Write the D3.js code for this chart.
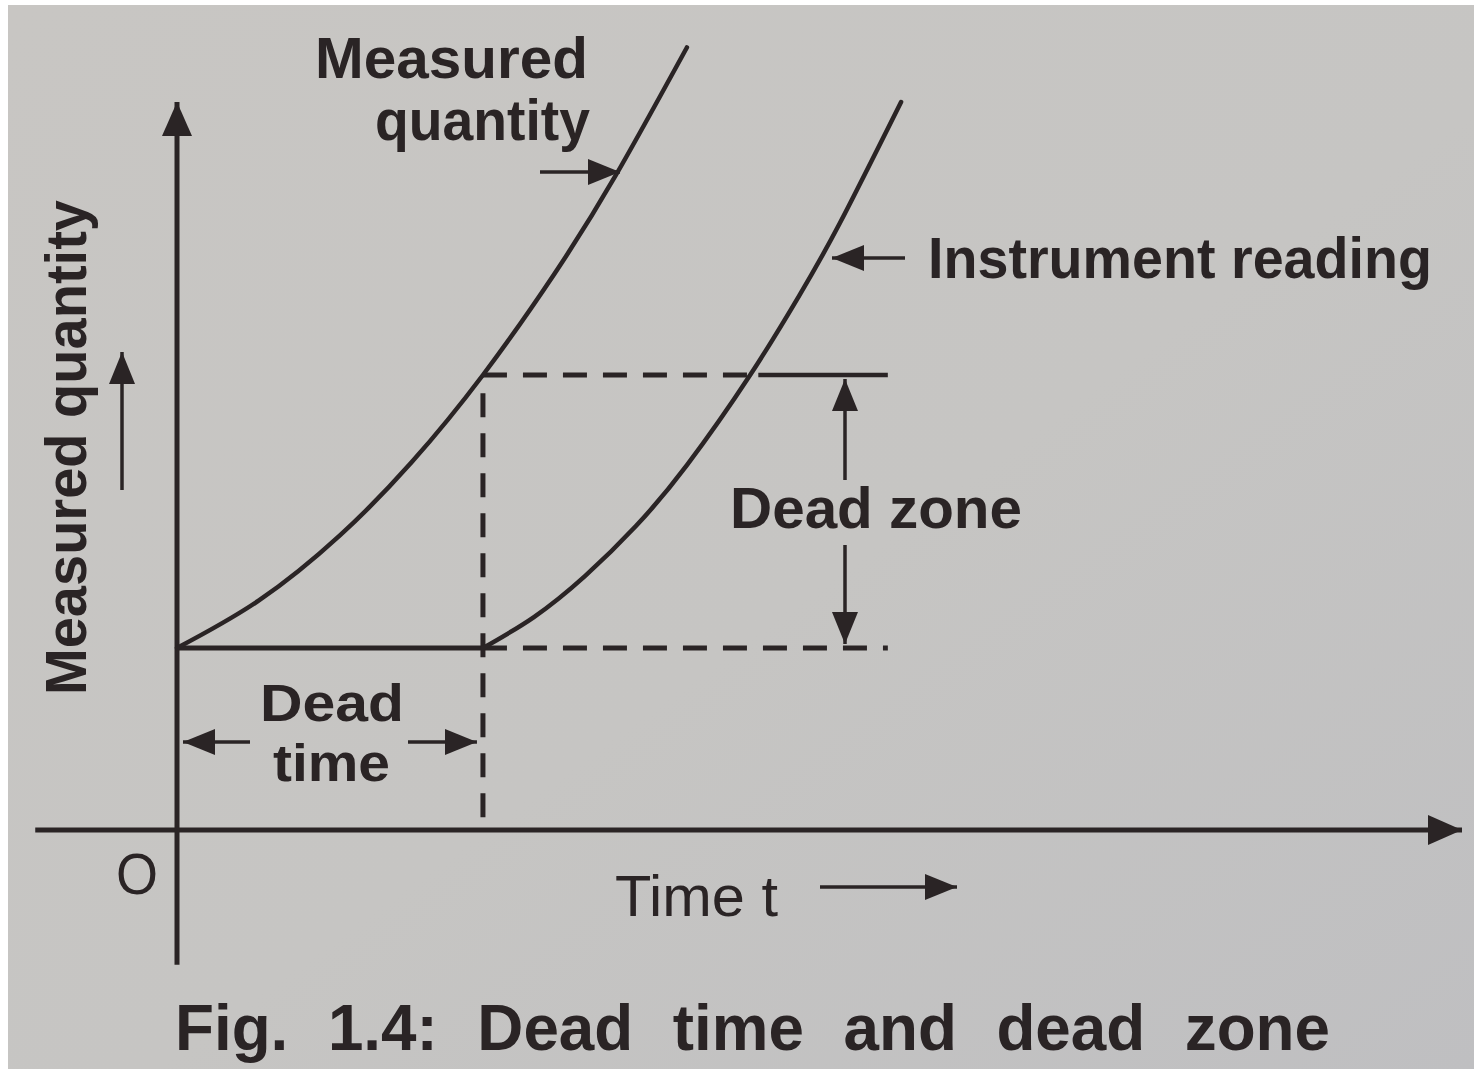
<!DOCTYPE html>
<html>
<head>
<meta charset="utf-8">
<script src="https://cdn.jsdelivr.net/npm/d3@7"></script>
<style>
    html, body { margin: 0; padding: 0; background: #ffffff; }
    svg { display: block; }
    .lbl { font-family: "Liberation Sans", Arial, sans-serif; fill: #2a2425; }
</style>
</head>
<body>
<svg id="chart" width="1474" height="1069"></svg>
<script>
/* Dead time and dead zone sketch */

// curve samples (time t, measured quantity q)
const measuredT = [0, 0.8, 1.6, 2.3, 3.0, 3.7, 4.3, 5.0];
const measuredQ = [2.0, 2.52, 3.24, 4.04, 5.0, 6.11, 7.19, 8.6];
const readingT = [3.0, 3.5, 4.0, 4.5, 5.0, 5.62, 6.1, 6.5, 7.1];
const readingQ = [2.0, 2.34, 2.79, 3.34, 4.01, 5.0, 5.87, 6.67, 8.0];

// reference levels
const deadTime = 3.0;
const baseLevel = 2.0;
const zoneLevel = 5.0;
const zoneCross = 5.62;
const guideEnd = 6.97;
const zoneArrowT = 6.55;

const width = 1474;
const height = 1069;
const ink = '#2a2425';

const x = d3.scaleLinear().domain([0, 12.6]).range([177, 1462]);
const y = d3.scaleLinear().domain([0, 8]).range([830, 102]);

const svg = d3.select('#chart');

// paper
const defs = svg.append('defs');
const grad = defs.append('linearGradient')
    .attr('id', 'paper')
    .attr('x1', 0).attr('y1', 0).attr('x2', 1).attr('y2', 1);
grad.append('stop').attr('offset', '0%').attr('stop-color', '#c8c6c3');
grad.append('stop').attr('offset', '55%').attr('stop-color', '#c6c5c3');
grad.append('stop').attr('offset', '100%').attr('stop-color', '#bfbfc1');

svg.append('rect').attr('width', width).attr('height', height).attr('fill', '#ffffff');
svg.append('rect')
    .attr('x', 8).attr('y', 5)
    .attr('width', width - 8).attr('height', height - 5)
    .attr('fill', 'url(#paper)');

// arrow heads
function marker(id, w, h) {
    defs.append('marker')
        .attr('id', id)
        .attr('viewBox', `0 0 ${h} ${w}`)
        .attr('refX', h)
        .attr('refY', w / 2)
        .attr('markerUnits', 'userSpaceOnUse')
        .attr('markerWidth', h)
        .attr('markerHeight', w)
        .attr('orient', 'auto')
        .append('path')
        .attr('d', `M0,0 L${h},${w / 2} L0,${w} Z`)
        .attr('fill', ink);
}
marker('head-axis', 30, 34);
marker('head-small', 26, 32);

function arrow(x1, y1, x2, y2, head, sw) {
    svg.append('line')
        .attr('x1', x1).attr('y1', y1)
        .attr('x2', x2).attr('y2', y2)
        .attr('stroke', ink)
        .attr('stroke-width', sw || 3.5)
        .attr('marker-end', `url(#${head || 'head-small'})`);
}

function seg(t1, q1, t2, q2, dashed, sw) {
    svg.append('line')
        .attr('x1', x(t1)).attr('y1', y(q1))
        .attr('x2', x(t2)).attr('y2', y(q2))
        .attr('stroke', ink)
        .attr('stroke-width', sw || 5)
        .attr('stroke-dasharray', dashed ? '24 16' : null);
}

// axes
arrow(x(-1.39), y(0), x(12.6), y(0), 'head-axis', 5);
arrow(x(0), y(-1.48), x(0), y(8.0), 'head-axis', 5);

// guide lines
seg(0, baseLevel, deadTime, baseLevel, false, 5);
seg(deadTime, baseLevel, guideEnd, baseLevel, true);
seg(deadTime, zoneLevel, zoneCross, zoneLevel, true);
seg(zoneCross + 0.08, zoneLevel, guideEnd, zoneLevel, false, 4.5);
seg(deadTime, zoneLevel - 0.2, deadTime, 0, true);

// curves
const line = d3.line()
    .x((d) => x(d[0]))
    .y((d) => y(d[1]))
    .curve(d3.curveNatural);

const series = [
    d3.zip(measuredT, measuredQ),
    d3.zip(readingT, readingQ),
];

svg.selectAll('.curve')
    .data(series)
    .join('path')
    .attr('class', 'curve')
    .attr('d', line)
    .attr('fill', 'none')
    .attr('stroke', ink)
    .attr('stroke-width', 4.5)
    .attr('stroke-linecap', 'round');

// dead zone arrows
arrow(x(zoneArrowT), 480, x(zoneArrowT), y(zoneLevel) + 4);
arrow(x(zoneArrowT), 545, x(zoneArrowT), y(baseLevel) - 4);

// dead time arrows
arrow(250, 742, x(0) + 6, 742);
arrow(408, 742, x(deadTime) - 6, 742);

// pointer arrows to the curves
arrow(540, 172, 620, 172);
arrow(905, 258, 832, 258);
arrow(122, 490, 122, 352);
arrow(820, 887, 957, 887);

// labels
function label(text, px, py, size, len, weight) {
    const t = svg.append('text')
        .attr('class', 'lbl')
        .attr('x', px).attr('y', py)
        .attr('font-size', size)
        .attr('font-weight', weight || 700)
        .text(text);
    if (len) t.attr('textLength', len).attr('lengthAdjust', 'spacingAndGlyphs');
    return t;
}

label('Measured', 315, 78, 58, 273);
label('quantity', 375, 140, 58, 215);
label('Instrument reading', 928, 278, 58, 504);
label('Dead zone', 730, 528, 58, 292);
label('Dead', 260, 721, 51, 144);
label('time', 273, 781, 51, 117);
label('O', 116, 894, 58, 42, 400);
label('Time t', 615, 916, 58, 163, 400);

svg.append('text')
    .attr('class', 'lbl')
    .attr('transform', 'translate(86,695) rotate(-90)')
    .attr('font-size', 58)
    .attr('font-weight', 700)
    .attr('textLength', 495)
    .attr('lengthAdjust', 'spacingAndGlyphs')
    .text('Measured quantity');

label('Fig. 1.4: Dead time and dead zone', 175, 1050, 64, 1155)
    .attr('word-spacing', 22);
</script>
</body>
</html>
